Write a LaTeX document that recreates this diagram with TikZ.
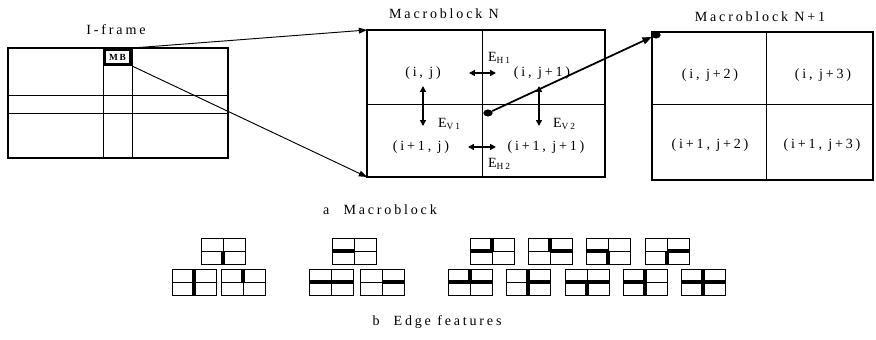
\documentclass[tikz,border=0pt]{standalone}
\usepackage{fontspec}
\setmainfont{Liberation Serif}[LetterSpace=20]
\usepackage{tikz}
\usetikzlibrary{arrows.meta, positioning, shapes.geometric}

\begin{document}
\begin{tikzpicture}[
  x=0.03cm, y=-0.03cm, every node/.style={font=\large},
  grid/.style={line width=0.8pt},
  cell/.style={line width=0.7pt},
  frame/.style={line width=2pt},
  thickedge/.style={line width=3.4pt},
  link/.style={line width=0.8pt, -{Triangle[length=7pt,width=5pt]}},
  dbl/.style={line width=1.3pt, {Triangle[length=5pt,width=5pt]}-{Triangle[length=5pt,width=5pt]}}
]
\useasboundingbox (0,0) rectangle (876,340);

% I-frame
\node (iframe) at (116,30) {I-frame};
\draw[frame] (8,48) rectangle (228,158);
\draw[grid] (8,95) -- (228,95);
\draw[grid] (8,113) -- (228,113);
\draw[grid] (103,48) -- (103,158);
\draw[grid] (132,48) -- (132,158);
\node (mb) [draw, line width=2.5pt, minimum width=0.78cm, minimum height=0.45cm,
  inner sep=0pt, font=\footnotesize\bfseries] at (117.5,57) {MB};

% Macroblock N
\node (mbN) at (444,14) {Macroblock N};
\draw[frame] (367,30) rectangle (605,177);
\draw[grid] (482,30) -- (482,177);
\draw[grid] (367,104) -- (605,104);
\coordinate (mbN-nw) at (367,30);
\coordinate (mbN-sw) at (367,177);
\draw[link] (mb.north east) -- (mbN-nw);
\draw[link] (mb.south east) -- (mbN-sw);

\node (c11) at (423,73) {(i, j)};
\node (c12) at (542,73) {(i, j+1)};
\node (c21) at (421,147) {(i+1, j)};
\node (c22) at (546,147) {(i+1, j+1)};

\coordinate (h1l) at (469,73);
\coordinate (h1r) at (496,73);
\coordinate (h2l) at (468,147);
\coordinate (h2r) at (496,147);
\coordinate (v1t) at (423,86);
\coordinate (v1b) at (423,126);
\coordinate (v2t) at (539,86);
\coordinate (v2b) at (539,126);
\draw[dbl] (h1l) -- (h1r);
\draw[dbl] (h2l) -- (h2r);
\draw[dbl] (v1t) -- (v1b);
\draw[dbl] (v2t) -- (v2b);
\node[anchor=west] (eh1) at (484,58) {E\textsubscript{H1}};
\node[anchor=west] (eh2) at (484,164) {E\textsubscript{H2}};
\node[anchor=west] (ev1) at (434,124) {E\textsubscript{V1}};
\node[anchor=west] (ev2) at (549,124) {E\textsubscript{V2}};

% scan from N to N+1
\node (dotA) [ellipse, fill, inner sep=0pt, minimum width=8pt, minimum height=6pt] at (488,113) {};
\node (dotB) [ellipse, fill, inner sep=0pt, minimum width=8pt, minimum height=6pt] at (656,35) {};
\draw[line width=1.5pt, -{Triangle[length=8pt,width=6pt]}] (dotA) -- (dotB);

% Macroblock N+1
\node (mbN1) at (760,17) {Macroblock N+1};
\draw[frame] (652,32) rectangle (873,180);
\draw[grid] (766,32) -- (766,180);
\draw[grid] (652,104) -- (873,104);
\node (d11) at (710,75) {(i, j+2)};
\node (d12) at (823,75) {(i, j+3)};
\node (d21) at (710,145) {(i+1, j+2)};
\node (d22) at (822,145) {(i+1, j+3)};

\node (capA) at (380,210) {a\quad Macroblock};

% Edge features
\foreach \bx/\by/\e in {201/238/{h2}, 172/269/{h1,h2}, 221/269/{h1},
    332/238/{v1}, 309/269/{v1,v2}, 360/269/{v2},
    470/238/{h1,v1}, 528/238/{h1,v2}, 586/238/{v1,h2}, 645/238/{v2,h2},
    448/269/{v1,v2,h1}, 506/269/{h1,h2,v2}, 565/269/{v1,v2,h2},
    623/269/{h1,h2,v1}, 681/269/{h1,h2,v1,v2}}
{
  \begin{scope}[shift={(\bx,\by)}]
    \coordinate (c) at (22,13);
    \coordinate (h1) at (22,0);
    \coordinate (h2) at (22,26);
    \coordinate (v1) at (0,13);
    \coordinate (v2) at (44,13);
    \foreach \s in \e {\draw[thickedge] (c) -- (\s);}
    \draw[cell] (0,0) rectangle (44,26);
    \draw[cell] (v1) -- (v2);
    \draw[cell] (h1) -- (h2);
  \end{scope}
}
\node (capB) at (437,322) {b\quad Edge features};
\end{tikzpicture}
\end{document}
